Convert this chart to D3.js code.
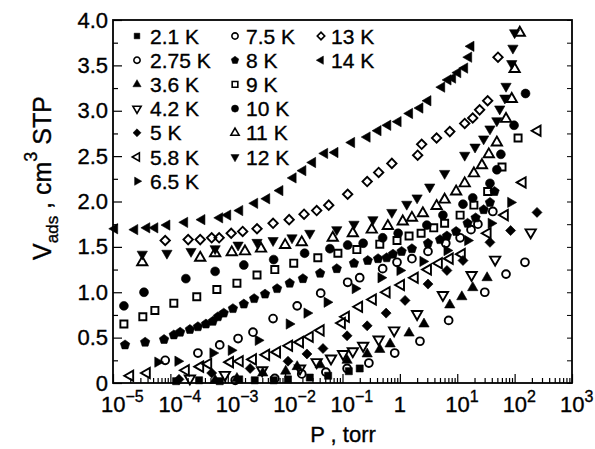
<!DOCTYPE html>
<html>
<head>
<meta charset="utf-8">
<script src="https://cdn.jsdelivr.net/npm/d3@7"></script>
<style>
  html, body { margin: 0; padding: 0; background: #fff; }
  svg { display: block; }
  text { font-family: "Liberation Sans", Arial, Helvetica, sans-serif; fill: #000; stroke: #000; stroke-width: 0.35px; }
</style>
</head>
<body>
<svg id="chart" width="595" height="449"></svg>
<script>
// Adsorption isotherms: each point is [log10(P / torr), V_ads (cm^3 STP)]
const T2_1  = [[-3.90,0.02],[-3.50,0.03],[-3.14,0.02],[-2.80,0.04],[-2.53,0.03],[-2.20,0.03],[-1.95,0.04],[-1.57,0.06],[-1.25,0.08],[-0.89,0.13],[-0.70,0.16]];
const T2_75 = [[-2.87,0.03],[-2.18,0.05],[-1.71,0.10],[-1.29,0.12],[-0.92,0.16],[-0.54,0.22],[-0.09,0.33],[0.35,0.46],[0.85,0.69],[1.48,1.00],[1.85,1.20],[2.18,1.33]];
const T3_6  = [[-3.22,0.03],[-2.84,0.05],[-2.39,0.11],[-1.99,0.13],[-1.79,0.18],[-1.39,0.20],[-0.92,0.25],[-0.57,0.32],[-0.35,0.37],[-0.17,0.43],[0.16,0.55],[0.42,0.65],[0.87,0.86],[1.08,0.95],[1.27,1.05],[1.52,1.16]];
const T4_2  = [[-3.66,0.05],[-3.05,0.09],[-2.40,0.14],[-1.74,0.16],[-1.45,0.23],[-1.20,0.27],[-0.99,0.32],[-0.82,0.35],[-0.64,0.41],[-0.37,0.48],[-0.10,0.58],[0.30,0.76],[0.75,0.97],[1.25,1.19],[1.66,1.36],[2.28,1.66]];
const T5    = [[-3.85,0.04],[-3.28,0.11],[-2.61,0.16],[-1.95,0.24],[-1.62,0.32],[-1.34,0.38],[-0.92,0.52],[-0.57,0.63],[-0.24,0.77],[0.09,0.91],[0.49,1.09],[0.82,1.24],[1.10,1.35],[1.57,1.55],[1.93,1.68],[2.39,1.88]];
const T5_8  = [[-4.70,0.08],[-4.41,0.11],[-3.73,0.14],[-3.48,0.18],[-3.34,0.21],[-2.96,0.23],[-2.79,0.24],[-2.56,0.26],[-2.33,0.31],[-2.14,0.34],[-1.93,0.41],[-1.74,0.45],[-1.57,0.51],[-1.38,0.58],[-1.01,0.66],[-0.94,0.73],[-0.71,0.84],[-0.47,0.92],[-0.23,1.00],[0.02,1.08],[0.26,1.16],[0.49,1.25],[0.68,1.32],[0.87,1.37],[1.08,1.42],[1.53,1.65],[1.83,1.85],[2.14,2.21],[2.40,2.78]];
const T6_5  = [[-4.22,0.23],[-3.87,0.24],[-3.26,0.33],[-2.94,0.36],[-2.47,0.47],[-1.93,0.65],[-1.62,0.77],[-1.27,0.89],[-0.78,1.04],[-0.33,1.16],[0.00,1.24],[0.40,1.34],[0.82,1.46],[1.18,1.57],[1.59,1.76],[1.93,1.99]];
const T7_5  = [[-4.09,0.25],[-3.52,0.33],[-3.14,0.42],[-2.82,0.49],[-2.56,0.56],[-2.21,0.71],[-1.79,0.85],[-1.38,0.99],[-0.91,1.11],[-0.70,1.16],[-0.30,1.26],[-0.05,1.33],[0.21,1.37],[0.49,1.45],[0.80,1.54],[1.05,1.60],[1.24,1.69],[1.36,1.75],[1.62,1.89]];
const T8    = [[-4.79,0.42],[-4.44,0.45],[-4.11,0.48],[-3.94,0.53],[-3.83,0.56],[-3.66,0.59],[-3.52,0.62],[-3.38,0.65],[-3.26,0.68],[-3.17,0.73],[-3.07,0.77],[-2.91,0.82],[-2.72,0.87],[-2.54,0.93],[-2.35,0.98],[-2.14,1.04],[-1.92,1.10],[-1.69,1.15],[-1.39,1.21],[-1.10,1.26],[-0.80,1.32],[-0.56,1.35],[-0.38,1.37],[-0.23,1.38],[-0.12,1.42],[0.03,1.45],[0.21,1.48],[0.49,1.54],[0.70,1.58],[0.82,1.62],[0.98,1.67],[1.18,1.76],[1.32,1.82],[1.46,1.91],[1.57,1.99],[1.65,2.11]];
const T9    = [[-4.81,0.65],[-4.48,0.73],[-4.27,0.80],[-3.94,0.88],[-3.54,0.95],[-3.19,1.03],[-2.84,1.10],[-2.49,1.19],[-2.18,1.25],[-1.85,1.32],[-1.43,1.38],[-1.08,1.43],[-0.75,1.47],[-0.35,1.53],[-0.05,1.57],[0.16,1.62],[0.37,1.65],[0.59,1.71],[0.78,1.76],[1.05,1.85],[1.29,1.96],[1.53,2.11],[1.78,2.38],[2.06,2.70]];
const T10   = [[-4.81,0.85],[-4.46,1.00],[-3.73,1.15],[-3.22,1.23],[-2.72,1.30],[-2.20,1.36],[-1.66,1.43],[-1.22,1.48],[-0.91,1.52],[-0.64,1.54],[-0.30,1.60],[-0.03,1.65],[0.47,1.74],[0.75,1.85],[1.10,1.97],[1.27,2.04],[1.57,2.20],[1.69,2.35],[1.76,2.52],[1.99,2.84],[2.19,3.19]];
const T11   = [[-4.49,1.33],[-3.48,1.38],[-3.22,1.43],[-2.93,1.44],[-2.70,1.45],[-2.42,1.48],[-2.00,1.52],[-1.71,1.55],[-1.17,1.60],[-0.82,1.65],[-0.49,1.69],[-0.21,1.73],[0.05,1.78],[0.21,1.82],[0.40,1.87],[0.64,1.95],[0.78,2.02],[0.98,2.11],[1.13,2.20],[1.29,2.31],[1.43,2.40],[1.55,2.52],[1.69,2.65],[1.85,2.91],[1.95,3.13],[2.00,3.46],[2.09,3.86]];
const T12   = [[-4.49,1.42],[-4.06,1.43],[-3.64,1.45],[-3.22,1.48],[-2.82,1.52],[-2.49,1.55],[-2.21,1.57],[-1.88,1.60],[-1.57,1.65],[-1.10,1.69],[-0.80,1.75],[-0.47,1.80],[-0.14,1.88],[0.12,1.97],[0.30,2.04],[0.52,2.16],[0.78,2.31],[1.13,2.51],[1.31,2.60],[1.46,2.69],[1.57,2.80],[1.69,2.89],[1.74,3.02],[1.83,3.14],[1.85,3.27],[1.95,3.52],[1.97,3.69],[2.00,3.86]];
const T13   = [[-4.09,1.57],[-3.69,1.58],[-3.48,1.58],[-3.28,1.60],[-3.15,1.60],[-2.94,1.65],[-2.74,1.67],[-2.49,1.70],[-2.21,1.76],[-1.93,1.80],[-1.67,1.86],[-1.45,1.90],[-1.24,1.96],[-0.91,2.08],[-0.57,2.22],[-0.37,2.32],[-0.14,2.42],[0.31,2.51],[0.38,2.63],[0.64,2.70],[0.87,2.77],[1.13,2.86],[1.27,2.92],[1.39,3.01],[1.53,3.11],[1.71,3.59]];
const T14   = [[-4.97,1.70],[-4.62,1.69],[-4.41,1.71],[-4.27,1.71],[-4.06,1.74],[-3.75,1.77],[-3.45,1.80],[-3.14,1.82],[-3.00,1.85],[-2.79,1.90],[-2.53,1.98],[-2.32,2.03],[-2.09,2.12],[-1.86,2.26],[-1.69,2.34],[-1.52,2.43],[-1.31,2.53],[-1.13,2.54],[-0.84,2.65],[-0.57,2.71],[-0.38,2.78],[-0.21,2.84],[-0.03,2.88],[0.17,2.97],[0.35,3.03],[0.49,3.11],[0.73,3.26],[0.84,3.34],[0.92,3.36],[1.01,3.42],[1.13,3.47],[1.20,3.59],[1.24,3.71]];

const seriesLabels = ["2.1 K","2.75 K","3.6 K","4.2 K","5 K","5.8 K","6.5 K","7.5 K","8 K","9 K","10 K","11 K","12 K","13 K","14 K"];
const seriesData   = [T2_1, T2_75, T3_6, T4_2, T5, T5_8, T6_5, T7_5, T8, T9, T10, T11, T12, T13, T14];
const yTickValues  = [0, 0.5, 1.0, 1.5, 2.0, 2.5, 3.0, 3.5, 4.0];
const xDecades     = [-5, -4, -3, -2, -1, 0, 1, 2, 3];

// marker styles: shape, filled, rotation
const markerStyles = [
  {shape: "square",   filled: true,  rot: 0},    // 2.1 K
  {shape: "circle",   filled: false, rot: 0},    // 2.75 K
  {shape: "triangle", filled: true,  rot: 0},    // 3.6 K
  {shape: "triangle", filled: false, rot: 180},  // 4.2 K
  {shape: "diamond",  filled: true,  rot: 0},    // 5 K
  {shape: "triangle", filled: false, rot: -90},  // 5.8 K
  {shape: "triangle", filled: true,  rot: 90},   // 6.5 K
  {shape: "circle",   filled: false, rot: 0},    // 7.5 K
  {shape: "pentagon", filled: true,  rot: 0},    // 8 K
  {shape: "square",   filled: false, rot: 0},    // 9 K
  {shape: "circle",   filled: true,  rot: 0},    // 10 K
  {shape: "triangle", filled: false, rot: 0},    // 11 K
  {shape: "triangle", filled: true,  rot: 180},  // 12 K
  {shape: "diamond",  filled: false, rot: 0},    // 13 K
  {shape: "triangle", filled: true,  rot: -90}   // 14 K
];

const svg = d3.select("#chart");
const margin = {left: 113, right: 23, top: 20, bottom: 66};
const W = 595, H = 449;
const x = d3.scaleLog().domain([1e-5, 1e3]).range([margin.left, W - margin.right]);
const y = d3.scaleLinear().domain([0, 4]).range([H - margin.bottom, margin.top]);

const pentagon = {
  draw(ctx, size) {
    const r = Math.sqrt(size / 2.378);
    for (let i = 0; i < 5; i++) {
      const a = -Math.PI / 2 + i * 2 * Math.PI / 5;
      const px = r * Math.cos(a), py = r * Math.sin(a);
      if (i === 0) ctx.moveTo(px, py); else ctx.lineTo(px, py);
    }
    ctx.closePath();
  }
};

function symbolPath(st, scale) {
  let type, size;
  switch (st.shape) {
    case "square":   type = d3.symbolSquare;   size = 50; break;
    case "circle":   type = d3.symbolCircle;   size = st.filled ? 62 : 48; break;
    case "triangle": type = d3.symbolTriangle; size = 46; break;
    case "diamond":  type = d3.symbolSquare;   size = st.filled ? 50 : 44; break;
    case "pentagon": type = pentagon;          size = 58; break;
  }
  return d3.symbol().type(type).size(size * scale * scale)();
}
function symbolRot(st) {
  return st.shape === "diamond" ? 45 : st.rot;
}

// axes
const xMajor = xDecades.map(e => Math.pow(10, e));
const xMinor = [];
for (let e = -5; e < 3; e++) for (let m = 2; m <= 9; m++) xMinor.push(m * Math.pow(10, e));

const gx = svg.append("g").attr("transform", `translate(0,${H - margin.bottom})`);
gx.call(d3.axisBottom(x).tickValues(xMinor).tickSize(-5).tickFormat(""));
gx.call(g => g.append("g").call(d3.axisBottom(x).tickValues(xMajor).tickSize(-9).tickFormat("")));
gx.selectAll(".domain").remove();
gx.selectAll("line").attr("stroke", "#000").attr("stroke-width", 1.2);

// decade labels with superscript exponents
const xl = svg.append("g");
xDecades.forEach(e => {
  const t = xl.append("text")
    .attr("x", x(Math.pow(10, e)))
    .attr("y", H - margin.bottom + 29)
    .attr("font-size", 22);
  if (e === 0) {
    t.attr("text-anchor", "middle").text("1");
  } else {
    t.attr("dx", -12);
    t.append("tspan").text("10");
    t.append("tspan").attr("dy", -10).attr("font-size", 16).text(e < 0 ? "\u2212" + (-e) : String(e));
  }
});

const yMinor = d3.range(0.25, 4, 0.5);
const gy = svg.append("g").attr("transform", `translate(${margin.left},0)`);
gy.call(d3.axisLeft(y).tickValues(yTickValues).tickSize(-9).tickPadding(5)
  .tickFormat(d => d === 0 ? "0" : d3.format(".1f")(d)));
gy.call(g => g.append("g").call(d3.axisLeft(y).tickValues(yMinor).tickSize(-5).tickFormat("")));
gy.selectAll(".domain").remove();
gy.selectAll("line").attr("stroke", "#000").attr("stroke-width", 1.2);
gy.selectAll("text").attr("font-size", 22).attr("font-family", "Liberation Sans, Arial, sans-serif");

const gyr = svg.append("g").attr("transform", `translate(${W - margin.right},0)`);
gyr.call(d3.axisRight(y).tickValues(yTickValues.concat(yMinor)).tickSize(-5).tickFormat(""));
gyr.selectAll(".domain").remove();
gyr.selectAll("line").attr("stroke", "#000").attr("stroke-width", 1);

// frame
svg.append("rect")
  .attr("x", margin.left).attr("y", margin.top)
  .attr("width", W - margin.left - margin.right)
  .attr("height", H - margin.top - margin.bottom)
  .attr("fill", "none").attr("stroke", "#000").attr("stroke-width", 1.8);

// data points
const plot = svg.append("g");
seriesData.forEach((pts, i) => {
  const st = markerStyles[i];
  const d = symbolPath(st, 1);
  plot.append("g").selectAll("path")
    .data(pts)
    .join("path")
    .attr("d", d)
    .attr("transform", p => `translate(${x(Math.pow(10, p[0]))},${y(p[1])}) rotate(${symbolRot(st)})`)
    .attr("fill", st.filled ? "#000" : "none")
    .attr("stroke", "#000")
    .attr("stroke-width", st.filled ? 0.6 : 1.9);
});

// legend
const legendCols = [{mx: 137, tx: 150}, {mx: 235, tx: 246}, {mx: 321, tx: 331}];
const legendRows = [7, 6, 2];
const leg = svg.append("g");
let k = 0;
legendCols.forEach((c, ci) => {
  for (let r = 0; r < legendRows[ci]; r++, k++) {
    const st = markerStyles[k];
    const cy = 36 + r * 24.2;
    leg.append("path")
      .attr("d", symbolPath(st, 0.8))
      .attr("transform", `translate(${c.mx},${cy}) rotate(${symbolRot(st)})`)
      .attr("fill", st.filled ? "#000" : "none")
      .attr("stroke", "#000")
      .attr("stroke-width", st.filled ? 0.5 : 1.6);
    leg.append("text")
      .attr("x", c.tx).attr("y", cy + 7.5)
      .attr("font-size", 21)
      .text(seriesLabels[k]);
  }
});

// axis titles
svg.append("text")
  .attr("x", 343).attr("y", 442)
  .attr("text-anchor", "middle")
  .attr("font-size", 22)
  .text("P , torr");

const yt = svg.append("text")
  .attr("transform", "translate(51,178) rotate(-90)")
  .attr("text-anchor", "middle")
  .attr("font-size", 25);
yt.append("tspan").text("V");
yt.append("tspan").attr("dy", 7).attr("font-size", 17).text("ads");
yt.append("tspan").attr("dy", -7).text(" , cm");
yt.append("tspan").attr("dy", -14).attr("font-size", 18).text("3");
yt.append("tspan").attr("dy", 14).text(" STP");
</script>
</body>
</html>
